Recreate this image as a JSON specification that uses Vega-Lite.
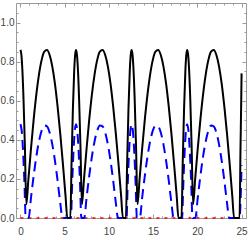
{
  "$schema": "https://vega.github.io/schema/vega-lite/v6.json",
  "width": 230,
  "height": 215,
  "autosize": {"type": "none"},
  "padding": {"left": 16, "top": 3, "right": 3, "bottom": 22},
  "config": {
    "view": {"stroke": "#9a9a9a", "strokeWidth": 1},
    "axis": {"domain": false, "grid": false, "title": null, "tickColor": "#9a9a9a", "tickWidth": 1, "labelFont": "Liberation Sans", "labelFontSize": 10, "labelColor": "#444444"}
  },
  "data": {"values": [
    {"s":"a","x":0,"y":0.86},{"s":"a","x":0.1,"y":0.838},{"s":"a","x":0.2,"y":0.775},{"s":"a","x":0.35,"y":0.608},{"s":"a","x":0.5,"y":0.373},{"s":"a","x":0.67,"y":0.07},{"s":"a","x":0.9,"y":0.197},{"s":"a","x":1.2,"y":0.358},{"s":"a","x":1.5,"y":0.506},{"s":"a","x":1.8,"y":0.633},{"s":"a","x":2.1,"y":0.735},{"s":"a","x":2.4,"y":0.809},{"s":"a","x":2.7,"y":0.851},{"s":"a","x":3.0,"y":0.859},{"s":"a","x":3.3,"y":0.834},{"s":"a","x":3.6,"y":0.776},{"s":"a","x":3.9,"y":0.688},{"s":"a","x":4.2,"y":0.571},{"s":"a","x":4.5,"y":0.433},{"s":"a","x":4.8,"y":0.278},{"s":"a","x":5.1,"y":0.113},{"s":"a","x":5.3,"y":0},
    {"s":"a","x":5.643,"y":0},{"s":"a","x":5.783,"y":0.289},{"s":"a","x":5.933,"y":0.561},{"s":"a","x":6.083,"y":0.758},{"s":"a","x":6.183,"y":0.834},{"s":"a","x":6.283,"y":0.86},{"s":"a","x":6.383,"y":0.838},{"s":"a","x":6.483,"y":0.775},{"s":"a","x":6.633,"y":0.608},{"s":"a","x":6.783,"y":0.373},{"s":"a","x":6.953,"y":0.07},{"s":"a","x":7.183,"y":0.197},{"s":"a","x":7.483,"y":0.358},{"s":"a","x":7.783,"y":0.506},{"s":"a","x":8.083,"y":0.633},{"s":"a","x":8.383,"y":0.735},{"s":"a","x":8.683,"y":0.809},{"s":"a","x":8.983,"y":0.851},{"s":"a","x":9.283,"y":0.859},{"s":"a","x":9.583,"y":0.834},{"s":"a","x":9.883,"y":0.776},{"s":"a","x":10.183,"y":0.688},{"s":"a","x":10.483,"y":0.571},{"s":"a","x":10.783,"y":0.433},{"s":"a","x":11.083,"y":0.278},{"s":"a","x":11.383,"y":0.113},{"s":"a","x":11.583,"y":0},
    {"s":"a","x":11.926,"y":0},{"s":"a","x":12.066,"y":0.289},{"s":"a","x":12.216,"y":0.561},{"s":"a","x":12.366,"y":0.758},{"s":"a","x":12.466,"y":0.834},{"s":"a","x":12.566,"y":0.86},{"s":"a","x":12.666,"y":0.838},{"s":"a","x":12.766,"y":0.775},{"s":"a","x":12.916,"y":0.608},{"s":"a","x":13.066,"y":0.373},{"s":"a","x":13.236,"y":0.07},{"s":"a","x":13.466,"y":0.197},{"s":"a","x":13.766,"y":0.358},{"s":"a","x":14.066,"y":0.506},{"s":"a","x":14.366,"y":0.633},{"s":"a","x":14.666,"y":0.735},{"s":"a","x":14.966,"y":0.809},{"s":"a","x":15.266,"y":0.851},{"s":"a","x":15.566,"y":0.859},{"s":"a","x":15.866,"y":0.834},{"s":"a","x":16.166,"y":0.776},{"s":"a","x":16.466,"y":0.688},{"s":"a","x":16.766,"y":0.571},{"s":"a","x":17.066,"y":0.433},{"s":"a","x":17.366,"y":0.278},{"s":"a","x":17.666,"y":0.113},{"s":"a","x":17.866,"y":0},
    {"s":"a","x":18.21,"y":0},{"s":"a","x":18.35,"y":0.289},{"s":"a","x":18.5,"y":0.561},{"s":"a","x":18.65,"y":0.758},{"s":"a","x":18.75,"y":0.834},{"s":"a","x":18.85,"y":0.86},{"s":"a","x":18.95,"y":0.838},{"s":"a","x":19.05,"y":0.775},{"s":"a","x":19.2,"y":0.608},{"s":"a","x":19.35,"y":0.373},{"s":"a","x":19.52,"y":0.07},{"s":"a","x":19.75,"y":0.197},{"s":"a","x":20.05,"y":0.358},{"s":"a","x":20.35,"y":0.506},{"s":"a","x":20.65,"y":0.633},{"s":"a","x":20.95,"y":0.735},{"s":"a","x":21.25,"y":0.809},{"s":"a","x":21.55,"y":0.851},{"s":"a","x":21.85,"y":0.859},{"s":"a","x":22.15,"y":0.834},{"s":"a","x":22.45,"y":0.776},{"s":"a","x":22.75,"y":0.688},{"s":"a","x":23.05,"y":0.571},{"s":"a","x":23.35,"y":0.433},{"s":"a","x":23.65,"y":0.278},{"s":"a","x":23.95,"y":0.113},{"s":"a","x":24.15,"y":0},
    {"s":"a","x":24.77,"y":0},{"s":"a","x":24.88,"y":0.36},{"s":"a","x":24.96,"y":0.6},{"s":"a","x":25.0,"y":0.74},
    {"s":"b","x":0,"y":0.48},{"s":"b","x":0.15,"y":0.444},{"s":"b","x":0.3,"y":0.339},{"s":"b","x":0.45,"y":0.184},{"s":"b","x":0.6,"y":0},{"s":"b","x":0.93,"y":0},{"s":"b","x":1.2,"y":0.106},{"s":"b","x":1.5,"y":0.217},{"s":"b","x":1.8,"y":0.315},{"s":"b","x":2.1,"y":0.393},{"s":"b","x":2.4,"y":0.447},{"s":"b","x":2.7,"y":0.473},{"s":"b","x":3.0,"y":0.469},{"s":"b","x":3.3,"y":0.437},{"s":"b","x":3.6,"y":0.377},{"s":"b","x":3.9,"y":0.294},{"s":"b","x":4.2,"y":0.192},{"s":"b","x":4.5,"y":0.079},{"s":"b","x":4.75,"y":0},
    {"s":"b","x":5.713,"y":0},{"s":"b","x":5.833,"y":0.156},{"s":"b","x":5.983,"y":0.325},{"s":"b","x":6.133,"y":0.44},{"s":"b","x":6.283,"y":0.48},{"s":"b","x":6.433,"y":0.444},{"s":"b","x":6.583,"y":0.339},{"s":"b","x":6.733,"y":0.184},{"s":"b","x":6.883,"y":0},{"s":"b","x":7.213,"y":0},{"s":"b","x":7.483,"y":0.106},{"s":"b","x":7.783,"y":0.217},{"s":"b","x":8.083,"y":0.315},{"s":"b","x":8.383,"y":0.393},{"s":"b","x":8.683,"y":0.447},{"s":"b","x":8.983,"y":0.473},{"s":"b","x":9.283,"y":0.469},{"s":"b","x":9.583,"y":0.437},{"s":"b","x":9.883,"y":0.377},{"s":"b","x":10.183,"y":0.294},{"s":"b","x":10.483,"y":0.192},{"s":"b","x":10.783,"y":0.079},{"s":"b","x":11.033,"y":0},
    {"s":"b","x":11.996,"y":0},{"s":"b","x":12.116,"y":0.156},{"s":"b","x":12.266,"y":0.325},{"s":"b","x":12.416,"y":0.44},{"s":"b","x":12.566,"y":0.48},{"s":"b","x":12.716,"y":0.444},{"s":"b","x":12.866,"y":0.339},{"s":"b","x":13.016,"y":0.184},{"s":"b","x":13.166,"y":0},{"s":"b","x":13.496,"y":0},{"s":"b","x":13.766,"y":0.106},{"s":"b","x":14.066,"y":0.217},{"s":"b","x":14.366,"y":0.315},{"s":"b","x":14.666,"y":0.393},{"s":"b","x":14.966,"y":0.447},{"s":"b","x":15.266,"y":0.473},{"s":"b","x":15.566,"y":0.469},{"s":"b","x":15.866,"y":0.437},{"s":"b","x":16.166,"y":0.377},{"s":"b","x":16.466,"y":0.294},{"s":"b","x":16.766,"y":0.192},{"s":"b","x":17.066,"y":0.079},{"s":"b","x":17.316,"y":0},
    {"s":"b","x":18.28,"y":0},{"s":"b","x":18.4,"y":0.156},{"s":"b","x":18.55,"y":0.325},{"s":"b","x":18.7,"y":0.44},{"s":"b","x":18.85,"y":0.48},{"s":"b","x":19.0,"y":0.444},{"s":"b","x":19.15,"y":0.339},{"s":"b","x":19.3,"y":0.184},{"s":"b","x":19.45,"y":0},{"s":"b","x":19.78,"y":0},{"s":"b","x":20.05,"y":0.106},{"s":"b","x":20.35,"y":0.217},{"s":"b","x":20.65,"y":0.315},{"s":"b","x":20.95,"y":0.393},{"s":"b","x":21.25,"y":0.447},{"s":"b","x":21.55,"y":0.473},{"s":"b","x":21.85,"y":0.469},{"s":"b","x":22.15,"y":0.437},{"s":"b","x":22.45,"y":0.377},{"s":"b","x":22.75,"y":0.294},{"s":"b","x":23.05,"y":0.192},{"s":"b","x":23.35,"y":0.079},{"s":"b","x":23.6,"y":0},
    {"s":"b","x":24.77,"y":0},{"s":"b","x":25.0,"y":0.27},
    {"s":"c","x":0,"y":0},{"s":"c","x":25,"y":0}
  ]},
  "encoding": {
    "x": {"field": "x", "type": "quantitative", "scale": {"domain": [-0.5, 25.5], "nice": false, "zero": false}},
    "y": {"field": "y", "type": "quantitative", "scale": {"domain": [0, 1.1], "nice": false}}
  },
  "layer": [
    {
      "transform": [{"filter": "datum.s == 'c'"}],
      "mark": {"type": "line", "stroke": "#ff0000", "strokeWidth": 1.6, "strokeDash": [3, 5], "clip": false},
      "encoding": {
        "x": {"field": "x", "type": "quantitative", "axis": {"orient": "bottom", "values": [1,2,3,4,6,7,8,9,11,12,13,14,16,17,18,19,21,22,23,24], "tickSize": -2, "labels": false}},
        "y": {"field": "y", "type": "quantitative", "axis": {"orient": "left", "values": [0.05,0.1,0.15,0.25,0.3,0.35,0.45,0.5,0.55,0.65,0.7,0.75,0.85,0.9,0.95,1.05], "tickSize": -2, "labels": false}}
      }
    },
    {
      "transform": [{"filter": "datum.s == 'c'"}],
      "mark": {"type": "line", "stroke": "#ff0000", "strokeOpacity": 0},
      "encoding": {
        "x": {"field": "x", "type": "quantitative", "axis": {"orient": "top", "values": [1,2,3,4,6,7,8,9,11,12,13,14,16,17,18,19,21,22,23,24], "tickSize": -2, "labels": false}},
        "y": {"field": "y", "type": "quantitative", "axis": {"orient": "right", "values": [0.05,0.1,0.15,0.25,0.3,0.35,0.45,0.5,0.55,0.65,0.7,0.75,0.85,0.9,0.95,1.05], "tickSize": -2, "labels": false}}
      }
    },
    {
      "transform": [{"filter": "datum.s == 'b'"}],
      "mark": {"type": "line", "stroke": "#0000ff", "strokeWidth": 2, "strokeDash": [10, 6], "interpolate": "monotone"},
      "encoding": {
        "x": {"field": "x", "type": "quantitative", "axis": {"orient": "top", "values": [0,5,10,15,20,25], "tickSize": -4, "labels": false}},
        "y": {"field": "y", "type": "quantitative", "axis": {"orient": "right", "values": [0,0.2,0.4,0.6,0.8,1.0], "tickSize": -4, "labels": false}}
      }
    },
    {
      "transform": [{"filter": "datum.s == 'a'"}],
      "mark": {"type": "line", "stroke": "#000000", "strokeWidth": 2, "interpolate": "monotone"},
      "encoding": {
        "x": {"field": "x", "type": "quantitative", "axis": {"orient": "bottom", "values": [0,5,10,15,20,25], "format": "d", "tickSize": -4, "labelPadding": 12}},
        "y": {"field": "y", "type": "quantitative", "axis": {"orient": "left", "values": [0,0.2,0.4,0.6,0.8,1.0], "format": ".1f", "tickSize": -4, "labelPadding": 6}}
      }
    }
  ],
  "resolve": {"axis": {"x": "independent", "y": "independent"}}
}
